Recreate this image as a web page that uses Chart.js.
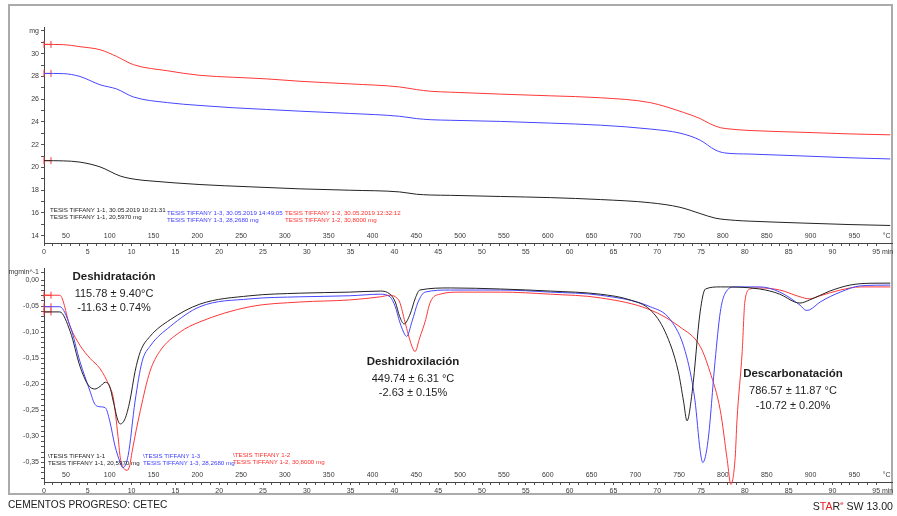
<!DOCTYPE html>
<html>
<head>
<meta charset="utf-8">
<script src="https://cdn.jsdelivr.net/npm/chart.js@4.4.1/dist/chart.umd.min.js"></script>
<style>
  html, body { margin: 0; padding: 0; background: #fff; }
  #hoja { position: relative; width: 897px; height: 516px; overflow: hidden;
          font-family: "Liberation Sans", Arial, sans-serif; color: #222; }
  #marco { position: absolute; left: 8px; top: 4px; width: 881px; height: 487px; border: 2px solid #ababab; }
  canvas { position: absolute; left: 0; }
  #tga { top: 0; }
  #dtg { top: 262px; }
  .t { position: absolute; white-space: nowrap; line-height: 1; }
  .ley { font-size: 6.2px; line-height: 7px; }
  .neg { color: #222; }
  .azu { color: #3d3dff; }
  .roj { color: #ff3030; }
  .nota { position: absolute; text-align: center; transform: translate(-50%, -50%); white-space: nowrap; font-size: 11px; line-height: 1; color: #1e1e1e; }
  .nota b { font-size: 11.5px; }
  #pie { left: 8px; top: 500px; font-size: 10.2px; }
  #ver { right: 4px; top: 500px; font-size: 10.6px; }
  #ver sup { font-size: 6px; color: #e02020; }
</style>
</head>
<body>
<div id="hoja">
  <div id="marco"></div>
  <canvas id="tga" width="897" height="262"></canvas>
  <canvas id="dtg" width="897" height="254"></canvas>

  <div class="t ley neg" style="left:50px;top:206px">TESIS TIFFANY 1-1, 30.05.2019 10:21:31<br>TESIS TIFFANY 1-1, 20,5970 mg</div>
  <div class="t ley azu" style="left:167px;top:209px">TESIS TIFFANY 1-3, 30.05.2019 14:49:05<br>TESIS TIFFANY 1-3, 28,2680 mg</div>
  <div class="t ley roj" style="left:285px;top:209px">TESIS TIFFANY 1-2, 30.05.2019 12:32:12<br>TESIS TIFFANY 1-2, 30,8000 mg</div>

  <div class="t ley neg" style="left:48px;top:452px">\TESIS TIFFANY 1-1<br>TESIS TIFFANY 1-1, 20,5970 mg</div>
  <div class="t ley azu" style="left:143px;top:452px">\TESIS TIFFANY 1-3<br>TESIS TIFFANY 1-3, 28,2680 mg</div>
  <div class="t ley roj" style="left:233px;top:451px">\TESIS TIFFANY 1-2<br>TESIS TIFFANY 1-2, 30,8000 mg</div>

  <div class="nota" style="left:114px;top:277px"><b>Deshidratación</b></div>
  <div class="nota" style="left:114px;top:292.5px">115.78 ± 9.40°C</div>
  <div class="nota" style="left:114px;top:306.5px">-11.63 ± 0.74%</div>

  <div class="nota" style="left:413px;top:362px"><b>Deshidroxilación</b></div>
  <div class="nota" style="left:413px;top:377.5px">449.74 ± 6.31 °C</div>
  <div class="nota" style="left:413px;top:392px">-2.63 ± 0.15%</div>

  <div class="nota" style="left:793px;top:374px"><b>Descarbonatación</b></div>
  <div class="nota" style="left:793px;top:389.5px">786.57 ± 11.87 °C</div>
  <div class="nota" style="left:793px;top:405px">-10.72 ± 0.20%</div>

  <div class="t" id="pie">CEMENTOS PROGRESO: CETEC</div>
  <div class="t" id="ver">S<span style="color:#e02020">TA</span>R<sup>e</sup> SW 13.00</div>
</div>

<script>
// Programa de calentamiento: 25 °C iniciales, 10 °C/min
const T0 = 25;
const RAMPA = 10;

// Etiquetas de los ejes
const minutosEtiquetas = [0, 5, 10, 15, 20, 25, 30, 35, 40, 45, 50, 55, 60, 65, 70, 75, 80, 85, 90, 95];
const temperaturasEtiquetas = [50, 100, 150, 200, 250, 300, 350, 400, 450, 500, 550, 600, 650, 700, 750, 800, 850, 900, 950];
const masaEtiquetas = [14, 16, 18, 20, 22, 24, 26, 28, 30];
const dtgEtiquetas = [0, -0.05, -0.10, -0.15, -0.20, -0.25, -0.30, -0.35];

// TGA (mg) frente a tiempo (min)
const tgaTiempo11 = [0, 2.2, 4.1, 6.4, 8.7, 10.5, 12.1, 17.8, 23.5, 29.2, 34.9, 40.6, 42.5, 44.1, 46.4, 52.1, 57.8, 63.5, 69.2, 72.6, 74.9, 76.6, 78.9, 80.6, 86.3, 92.0, 96.6];
const tgaMasa11   = [20.60, 20.58, 20.47, 20.05, 19.25, 18.95, 18.82, 18.50, 18.30, 18.12, 18.00, 17.85, 17.65, 17.58, 17.55, 17.45, 17.35, 17.18, 16.90, 16.50, 15.95, 15.55, 15.35, 15.28, 15.12, 14.98, 14.90];

const tgaTiempo13 = [0, 2.2, 4.1, 6.4, 8.3, 10.2, 14.1, 17.8, 21.6, 25.4, 29.2, 34.9, 40.6, 42.5, 44.1, 46.4, 52.1, 57.8, 63.5, 69.2, 72.6, 74.9, 76.6, 77.7, 80.6, 86.3, 92.0, 96.6];
const tgaMasa13   = [28.27, 28.25, 28.00, 27.27, 26.90, 26.20, 25.70, 25.45, 25.25, 25.10, 24.95, 24.75, 24.50, 24.30, 24.20, 24.15, 24.05, 23.90, 23.72, 23.38, 23.02, 22.40, 21.55, 21.28, 21.18, 21.02, 20.85, 20.75];

const tgaTiempo12 = [0, 2.2, 4.1, 6.4, 8.3, 10.2, 14.1, 17.8, 21.6, 25.4, 29.2, 34.9, 40.6, 42.5, 44.1, 46.4, 52.1, 57.8, 63.5, 69.2, 73.0, 74.9, 76.0, 77.2, 78.3, 80.6, 86.3, 92.0, 96.6];
const tgaMasa12   = [30.82, 30.80, 30.62, 30.35, 29.76, 29.04, 28.50, 28.10, 27.93, 27.79, 27.58, 27.35, 27.08, 26.85, 26.70, 26.62, 26.45, 26.30, 26.13, 25.70, 24.84, 24.30, 23.85, 23.50, 23.38, 23.25, 23.10, 22.95, 22.87];

// DTG (mg·min^-1) frente a tiempo (min)
const dtgTiempo11 = [0, 1.8, 3.0, 4.1, 5.0, 5.8, 6.4, 7.0, 7.5, 7.9, 8.45, 8.7, 9.25, 9.8, 10.4, 11.0, 12.1, 14.4, 17.8, 23.5, 29.2, 34.9, 38.4, 39.5, 40.1, 40.6, 41.1, 41.8, 42.4, 42.9, 46.4, 52.1, 57.8, 63.5, 66.9, 69.2, 70.9, 72.4, 73.0, 73.4, 74.0, 74.9, 75.5, 77.2, 81.7, 84.0, 85.7, 86.3, 87.4, 89.7, 92.0, 94.3, 96.6];
const dtgValor11  = [-0.061, -0.061, -0.099, -0.165, -0.200, -0.209, -0.204, -0.196, -0.204, -0.232, -0.270, -0.276, -0.266, -0.232, -0.175, -0.137, -0.108, -0.076, -0.046, -0.030, -0.025, -0.023, -0.021, -0.027, -0.042, -0.070, -0.084, -0.065, -0.034, -0.019, -0.015, -0.017, -0.021, -0.027, -0.038, -0.057, -0.099, -0.175, -0.232, -0.270, -0.213, -0.061, -0.017, -0.013, -0.017, -0.027, -0.042, -0.044, -0.038, -0.021, -0.0095, -0.006, -0.0057];

const dtgTiempo13 = [0, 1.8, 3.0, 4.1, 5.25, 5.8, 6.4, 7.0, 7.5, 8.1, 8.7, 9.0, 9.6, 10.4, 11.2, 12.1, 14.4, 17.8, 23.5, 29.2, 34.9, 38.4, 39.5, 40.1, 40.6, 41.2, 41.4, 42.0, 42.7, 43.5, 46.4, 52.1, 57.8, 63.5, 69.2, 71.5, 73.2, 74.3, 74.9, 75.2, 75.8, 76.6, 77.2, 77.7, 78.9, 81.7, 84.0, 86.3, 87.0, 87.4, 88.6, 90.9, 93.2, 96.6];
const dtgValor13  = [-0.051, -0.051, -0.089, -0.156, -0.213, -0.238, -0.243, -0.245, -0.270, -0.318, -0.350, -0.360, -0.337, -0.232, -0.156, -0.127, -0.089, -0.051, -0.036, -0.032, -0.030, -0.027, -0.032, -0.051, -0.080, -0.105, -0.108, -0.080, -0.042, -0.023, -0.019, -0.019, -0.023, -0.029, -0.051, -0.076, -0.137, -0.230, -0.327, -0.350, -0.308, -0.156, -0.061, -0.027, -0.013, -0.013, -0.023, -0.048, -0.058, -0.057, -0.042, -0.023, -0.011, -0.0095];

const dtgTiempo12 = [0, 1.8, 3.0, 4.1, 5.25, 6.4, 7.5, 7.9, 8.45, 8.7, 9.0, 9.5, 9.8, 10.05, 11.0, 12.1, 13.2, 15.5, 17.8, 23.5, 29.2, 34.9, 38.4, 39.5, 40.1, 40.6, 41.2, 42.0, 42.35, 42.9, 43.5, 44.1, 45.2, 47.5, 52.1, 57.8, 63.5, 69.2, 72.6, 74.9, 76.0, 77.2, 78.0, 78.4, 78.9, 79.1, 79.7, 80.0, 80.6, 81.7, 84.0, 86.3, 87.4, 88.6, 90.9, 93.2, 96.6];
const dtgValor12  = [-0.029, -0.029, -0.090, -0.125, -0.150, -0.170, -0.205, -0.225, -0.300, -0.340, -0.358, -0.365, -0.355, -0.330, -0.250, -0.175, -0.137, -0.100, -0.080, -0.051, -0.042, -0.038, -0.032, -0.029, -0.032, -0.042, -0.080, -0.127, -0.137, -0.110, -0.080, -0.042, -0.027, -0.023, -0.023, -0.027, -0.034, -0.057, -0.090, -0.127, -0.175, -0.250, -0.346, -0.392, -0.340, -0.270, -0.137, -0.042, -0.017, -0.015, -0.019, -0.032, -0.036, -0.030, -0.019, -0.013, -0.013];

const NEGRO = 'rgb(35,35,35)';
const AZUL = 'rgb(70,70,255)';
const ROJO = 'rgb(255,55,55)';
const FUENTE = '"Liberation Sans", Arial, sans-serif';
const GRIS = '#3a3a3a';
const T_MAX = 96.8;

function serie(tiempos, valores, color) {
  return {
    data: tiempos.map((t, i) => ({ x: t, y: valores[i] })),
    borderColor: color, borderWidth: 1, pointRadius: 0,
    cubicInterpolationMode: 'monotone', fill: false, clip: false
  };
}

// Marca roja de inicio sobre cada curva
function marcaInicio(tiempos, valores) {
  return {
    data: [{ x: tiempos[0], y: valores[0] }, { x: tiempos[0] + 0.8, y: valores[0] }],
    borderColor: ROJO, borderWidth: 1, pointStyle: 'line', pointRadius: 3.5,
    pointRotation: 90, pointBorderColor: ROJO, pointBorderWidth: 1, clip: false
  };
}

const fuenteTick = { family: FUENTE, size: 7 };

function ejeMinutos() {
  return {
    type: 'linear', position: 'bottom', weight: 1, min: 0, max: T_MAX,
    afterFit: s => { s.height = 17; },
    afterBuildTicks: s => {
      const t = [];
      for (let m = 0; m <= 95; m++) t.push({ value: m });
      t.push({ value: 96.3, unidad: 'min' });
      s.ticks = t;
    },
    ticks: {
      autoSkip: false, maxRotation: 0, minRotation: 0, padding: 2, color: GRIS, font: fuenteTick,
      callback: (v, i, ts) => ts[i].unidad ? ts[i].unidad : (minutosEtiquetas.includes(v) ? String(v) : '')
    },
    grid: {
      drawOnChartArea: false, tickLength: 3,
      tickColor: c => (c.tick && c.tick.unidad) ? 'rgba(0,0,0,0)' : '#555'
    },
    border: { display: true, color: '#444', width: 1 }
  };
}

function ejeTemperatura() {
  return {
    type: 'linear', position: 'bottom', weight: 0, min: 0, max: T_MAX,
    afterFit: s => { s.height = 0; },
    afterBuildTicks: s => {
      s.ticks = temperaturasEtiquetas.map(T => ({ value: (T - T0) / RAMPA }))
        .concat([{ value: 96.2, unidad: '°C' }]);
    },
    ticks: {
      mirror: true, padding: 3, autoSkip: false, maxRotation: 0, minRotation: 0,
      color: GRIS, font: fuenteTick,
      callback: (v, i, ts) => ts[i].unidad ? ts[i].unidad : String(Math.round(v * RAMPA + T0))
    },
    grid: { display: false },
    border: { display: false }
  };
}

const baseOpciones = {
  responsive: false, maintainAspectRatio: false, animation: false,
  devicePixelRatio: 1, events: [],
  plugins: { legend: { display: false }, tooltip: { enabled: false } }
};

// Panel superior: masa
new Chart(document.getElementById('tga'), {
  type: 'line',
  data: {
    datasets: [
      serie(tgaTiempo11, tgaMasa11, NEGRO),
      serie(tgaTiempo13, tgaMasa13, AZUL),
      serie(tgaTiempo12, tgaMasa12, ROJO),
      marcaInicio(tgaTiempo11, tgaMasa11),
      marcaInicio(tgaTiempo13, tgaMasa13),
      marcaInicio(tgaTiempo12, tgaMasa12)
    ]
  },
  options: Object.assign({}, baseOpciones, {
    layout: { padding: { left: 8, top: 27, right: 5, bottom: 2 } },
    scales: {
      x: ejeMinutos(),
      x2: ejeTemperatura(),
      y: {
        type: 'linear', position: 'left', min: 13.36, max: 32.35,
        afterFit: s => { s.width = 36; },
        afterBuildTicks: s => {
          const t = [];
          for (let m = 14; m <= 31; m++) t.push({ value: m });
          t.push({ value: 32, unidad: 'mg' });
          s.ticks = t;
        },
        ticks: {
          autoSkip: false, padding: 2, color: GRIS, font: fuenteTick,
          callback: (v, i, ts) => ts[i].unidad ? ts[i].unidad : (masaEtiquetas.includes(v) ? String(v) : '')
        },
        grid: { drawOnChartArea: false, tickLength: 3, tickColor: '#555' },
        border: { display: true, color: '#444', width: 1 }
      }
    }
  })
});

// Panel inferior: derivada
new Chart(document.getElementById('dtg'), {
  type: 'line',
  data: {
    datasets: [
      serie(dtgTiempo11, dtgValor11, NEGRO),
      serie(dtgTiempo13, dtgValor13, AZUL),
      serie(dtgTiempo12, dtgValor12, ROJO),
      marcaInicio(dtgTiempo11, dtgValor11),
      marcaInicio(dtgTiempo13, dtgValor13),
      marcaInicio(dtgTiempo12, dtgValor12)
    ]
  },
  options: Object.assign({}, baseOpciones, {
    layout: { padding: { left: 8, top: 5, right: 5, bottom: 17 } },
    scales: {
      x: ejeMinutos(),
      x2: ejeTemperatura(),
      y: {
        type: 'linear', position: 'left', min: -0.3874, max: 0.0229,
        afterFit: s => { s.width = 36; },
        afterBuildTicks: s => {
          const t = [];
          for (let k = 38; k >= 0; k--) t.push({ value: -k / 100 });
          t.push({ value: 0.015, unidad: 'mgmin^-1' });
          s.ticks = t;
        },
        ticks: {
          autoSkip: false, padding: 2, color: GRIS, font: fuenteTick,
          callback: (v, i, ts) => {
            if (ts[i].unidad) return ts[i].unidad;
            const e = dtgEtiquetas.find(d => Math.abs(d - v) < 1e-6);
            return e === undefined ? '' : e.toFixed(2).replace('.', ',');
          }
        },
        grid: { drawOnChartArea: false, tickLength: 3, tickColor: '#555' },
        border: { display: true, color: '#444', width: 1 }
      }
    }
  })
});
</script>
</body>
</html>
